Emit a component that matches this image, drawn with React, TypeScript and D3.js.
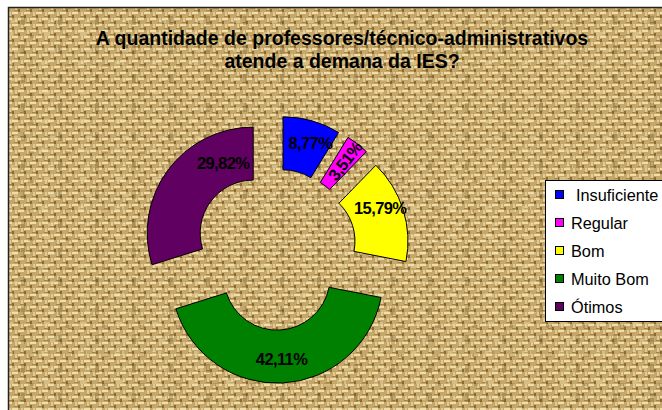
import React from "react";
import * as d3 from "d3";

const categories = ["Insuficiente", "Regular", "Bom", "Muito Bom", "Ótimos"];
const values = [8.77, 3.51, 15.79, 42.11, 29.82];
const colors = ["#0000ff", "#ff00ff", "#ffff00", "#008000", "#600060"];
const titleLines = [
  "A quantidade de professores/técnico-administrativos",
  "atende a demana da IES?",
];

const W = 662;
const H = 410;
const cx = 275.5;
const cy = 249.5;
const outerR = 106;
const innerR = 53;
const explode = 27.7;

// excel pushes some labels off the centroid
const labelNudge = { "Insuficiente": [5, -1], "Bom": [0, -9], "Regular": [2, -2], "Ótimos": [36, -22] };

const fmt = (v) => v.toFixed(2).replace(".", ",") + "%";

const App = () => {
  const pie = d3
    .pie()
    .sort(null)
    .value((d) => d.value);
  const slices = pie(categories.map((c, i) => ({ name: c, value: values[i], color: colors[i] })));
  const arc = d3.arc().innerRadius(innerR).outerRadius(outerR);
  const labelArc = d3.arc().innerRadius(82).outerRadius(82);

  const legendY = d3
    .scalePoint()
    .domain(categories)
    .range([195, 307]);

  return (
    <svg
      width={W}
      height={H}
      style={{ position: "absolute", left: 0, top: 0, fontFamily: "Liberation Sans, Arial, sans-serif" }}
    >
      <defs>
        <pattern id="burlap" width="12" height="12" patternUnits="userSpaceOnUse">
          <rect width="12" height="12" fill="#c6a76b" />
          <rect x="0" y="0" width="6" height="2" fill="#efdea9" />
          <rect x="6" y="6" width="6" height="2" fill="#efdea9" />
          <rect x="0" y="3" width="2" height="3" fill="#8a6a33" />
          <rect x="6" y="9" width="2" height="3" fill="#8a6a33" />
          <rect x="3" y="6" width="2" height="5" fill="#e2ca92" />
          <rect x="9" y="0" width="2" height="5" fill="#e2ca92" />
          <rect x="2" y="10" width="4" height="1" fill="#a5843f" />
          <rect x="8" y="4" width="4" height="1" fill="#a5843f" />
        </pattern>
        <pattern id="burlap2" width="37" height="29" patternUnits="userSpaceOnUse">
          <rect x="4" y="3" width="9" height="4" fill="#f2e3b5" opacity="0.35" />
          <rect x="21" y="16" width="4" height="9" fill="#6e5226" opacity="0.3" />
          <rect x="28" y="6" width="6" height="3" fill="#7a5a2a" opacity="0.25" />
          <rect x="11" y="20" width="7" height="3" fill="#f5e6bb" opacity="0.3" />
        </pattern>
      </defs>
      <rect x={8} y={7} width={W} height={H} fill="url(#burlap)" />
      <rect x={8} y={7} width={W} height={H} fill="url(#burlap2)" />
      <rect x={8.5} y={7.5} width={W} height={H} fill="none" stroke="#222" strokeWidth={1.5} />

      <g fontWeight="bold" fontSize={19.5} textAnchor="middle" fill="#000">
        {titleLines.map((t, i) => (
          <text key={i} x={342} y={45 + i * 23}>
            {t}
          </text>
        ))}
      </g>

      <g>
        {slices.map((s) => {
          const mid = (s.startAngle + s.endAngle) / 2;
          const ox = cx + explode * Math.sin(mid);
          const oy = cy - explode * Math.cos(mid);
          const [lx, ly] = labelArc.centroid(s);
          const nudge = labelNudge[s.data.name] || [0, 0];
          const rot = s.data.name === "Regular" ? (mid * 180) / Math.PI - 90 : 0;
          return (
            <g key={s.data.name} transform={`translate(${ox},${oy})`}>
              <path d={arc(s)} fill={s.data.color} stroke="#000" strokeWidth={1} />
              <text
                transform={`translate(${lx + nudge[0]},${ly + nudge[1]}) rotate(${rot})`}
                textAnchor="middle"
                dominantBaseline="central"
                fontWeight="bold"
                fontSize={16.5}
                letterSpacing={-0.6}
                fill="#000"
              >
                {fmt(s.data.value)}
              </text>
            </g>
          );
        })}
      </g>

      <g>
        <rect x={545.5} y={180.5} width={130} height={141} fill="#fff" stroke="#000" strokeWidth={1} />
        {categories.map((c, i) => (
          <g key={c}>
            <rect x={555.5} y={legendY(c) - 4.5} width={8} height={8} fill={colors[i]} stroke="#000" strokeWidth={1} />
            <text x={i === 0 ? 576 : 571} y={legendY(c)} dominantBaseline="central" fontSize={16.3} fill="#000">
              {c}
            </text>
          </g>
        ))}
      </g>
    </svg>
  );
};

export default App;
